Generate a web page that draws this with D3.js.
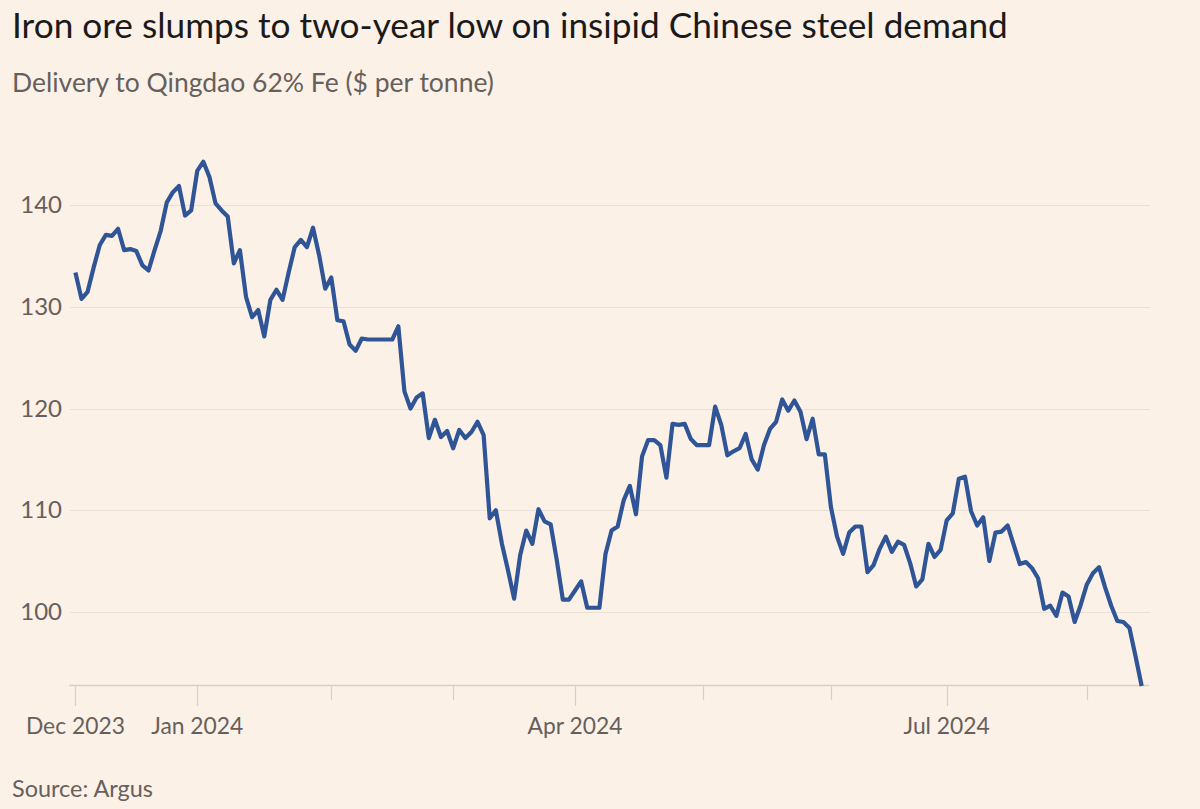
<!DOCTYPE html>
<html>
<head>
<meta charset="utf-8">
<script src="https://cdn.jsdelivr.net/npm/d3@7"></script>
<style>
  html, body { margin: 0; padding: 0; background: #fcf1e7; }
  svg { display: block; }
  text { font-family: Lato, "Noto Sans", sans-serif; }
</style>
</head>
<body>
<svg id="chart" width="1200" height="809"></svg>
<script>
// ---- Data (Singapore trading days, 1 Dec 2023 – 15 Aug 2024) ----
const values = [
  133.4, 130.8, 131.5, 133.9, 136.1, 137.1, 137.0, 137.7, 135.6, 135.7,
  135.5, 134.1, 133.6, 135.6, 137.5, 140.3, 141.3, 141.9, 139.0, 139.5,
  143.4, 144.3, 142.8, 140.2, 139.5, 138.9, 134.3, 135.6, 131.0, 129.0,
  129.7, 127.1, 130.7, 131.7, 130.7, 133.4, 135.9, 136.6, 135.9, 137.8,
  135.1, 131.8, 132.9, 128.7, 128.6, 126.3, 125.7, 126.9, 126.8, 126.8,
  126.8, 126.8, 126.8, 128.1, 121.7, 120.0, 121.1, 121.5, 117.1, 118.9,
  117.2, 117.8, 116.1, 117.9, 117.1, 117.7, 118.7, 117.4, 109.2, 110.0,
  106.7, 104.1, 101.3, 105.6, 108.0, 106.7, 110.1, 108.9, 108.6, 105.1,
  101.2, 101.2, 102.1, 103.0, 100.4, 100.4, 100.4, 105.7, 108.0, 108.4,
  111.0, 112.4, 109.6, 115.3, 116.9, 116.9, 116.4, 113.2, 118.5, 118.4,
  118.5, 117.0, 116.4, 116.4, 116.4, 120.2, 118.4, 115.4, 115.8, 116.1,
  117.5, 115.0, 114.0, 116.4, 118.0, 118.7, 120.9, 119.8, 120.8, 119.7,
  117.0, 119.0, 115.5, 115.5, 110.3, 107.4, 105.7, 107.8, 108.4, 108.4,
  103.9, 104.6, 106.2, 107.4, 105.9, 106.9, 106.6, 104.8, 102.5, 103.2,
  106.7, 105.4, 106.1, 109.0, 109.7, 113.1, 113.3, 109.9, 108.5, 109.3,
  105.0, 107.8, 107.9, 108.5, 106.6, 104.7, 104.9, 104.3, 103.3, 100.3,
  100.6,  99.6, 101.9, 101.5,  99.0, 100.7, 102.7, 103.8, 104.4, 102.4,
  100.6,  99.1,  99.0,  98.4,  95.6,  92.7
];
// Index of the first trading day of each month
const tickIndex  = [0, 20, 42, 62, 82, 103, 124, 143, 166];
const tickLabels = ["Dec 2023", "Jan 2024", "", "", "Apr 2024", "", "", "Jul 2024", ""];
const yTicks = [100, 110, 120, 130, 140];

const title = "Iron ore slumps to two-year low on insipid Chinese steel demand";
const subtitle = "Delivery to Qingdao 62% Fe ($ per tonne)";
const source = "Source: Argus";

// ---- Layout ----
const svg = d3.select("#chart");
const W = 1200, H = 809;
svg.append("rect").attr("width", W).attr("height", H).attr("fill", "#fcf1e7");

const x = d3.scaleLinear().domain([0, values.length - 1]).range([75.4, 75.4 + 6.093 * (values.length - 1)]);
const y = d3.scaleLinear().domain([d3.min(values), d3.max(values)]).range([686, 161.7]);

const gridLeft = 70, gridRight = 1150;

function fit(sel, target) {
  const node = sel.node();
  const fs = parseFloat(sel.attr("font-size"));
  const w = node.getComputedTextLength();
  sel.attr("font-size", (fs * target / w).toFixed(2));
}

// Title & subtitle
const t = svg.append("text").attr("x", 12).attr("y", 38).attr("font-size", 32)
  .attr("fill", "#1a1a1a").text(title);
fit(t, 996);
const st = svg.append("text").attr("x", 12).attr("y", 92).attr("font-size", 24)
  .attr("fill", "#66605c").text(subtitle);
fit(st, 482);

// Gridlines
svg.append("g").selectAll("line").data(yTicks).join("line")
  .attr("x1", gridLeft).attr("x2", gridRight)
  .attr("y1", d => Math.round(y(d)) + 0.5).attr("y2", d => Math.round(y(d)) + 0.5)
  .attr("stroke", "#e9e0d6").attr("stroke-width", 1);

// Y labels
const yLab = svg.append("g").selectAll("text").data(yTicks).join("text")
  .attr("x", 62).attr("y", d => y(d) + 8)
  .attr("text-anchor", "end").attr("font-size", 22)
  .attr("fill", "#66605c").text(d => d);

// X axis
const axisY = y.range()[0];
svg.append("line").attr("x1", 69).attr("x2", 1149)
  .attr("y1", axisY - 0.5).attr("y2", axisY - 0.5)
  .attr("stroke", "#d8cfc6").attr("stroke-width", 1.5);
const ticks = svg.append("g").selectAll("g").data(tickIndex).join("g");
ticks.append("line")
  .attr("x1", d => Math.round(x(d)) + 0.5).attr("x2", d => Math.round(x(d)) + 0.5)
  .attr("y1", axisY).attr("y2", (d, i) => tickLabels[i] ? axisY + 20 : axisY + 14)
  .attr("stroke", "#d8cfc6").attr("stroke-width", 1.2);
const xLab = ticks.append("text")
  .attr("x", d => x(d)).attr("y", 734)
  .attr("text-anchor", "middle").attr("font-size", 22)
  .attr("fill", "#66605c").text((d, i) => tickLabels[i]);

// size the axis labels from the first one
{
  const first = xLab.filter((d, i) => i === 0);
  fit(first, 99);
  const fs = parseFloat(first.attr("font-size"));
  xLab.attr("font-size", fs);
  yLab.attr("font-size", fs * 1.05);
}

// Line
const line = d3.line().x((d, i) => x(i)).y(d => y(d));
svg.append("path").datum(values)
  .attr("d", line)
  .attr("fill", "none")
  .attr("stroke", "#2f5597")
  .attr("stroke-width", 4.2)
  .attr("stroke-linejoin", "round");

// Source
const src = svg.append("text").attr("x", 12).attr("y", 797).attr("font-size", 22)
  .attr("fill", "#66605c").text(source);
fit(src, 141);
</script>
</body>
</html>
